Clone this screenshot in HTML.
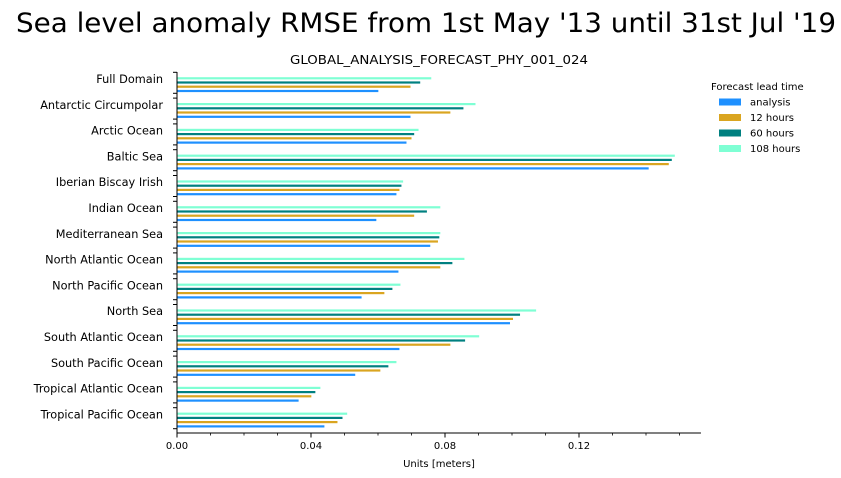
<!DOCTYPE html>
<html><head><meta charset="utf-8"><style>
html,body{margin:0;padding:0;background:#fff;width:841px;height:478px;overflow:hidden}
svg{display:block;font-family:"DejaVu Sans","Liberation Sans",sans-serif}
</style></head><body>
<svg id="chart" width="841" height="478" viewBox="0 0 841 478" xmlns="http://www.w3.org/2000/svg">
<text x="426" y="32" font-size="27" text-anchor="middle" textLength="820" lengthAdjust="spacingAndGlyphs">Sea level anomaly RMSE from 1st May '13 until 31st Jul '19</text>
<text x="439" y="64" font-size="12.5" text-anchor="middle" textLength="298" lengthAdjust="spacingAndGlyphs">GLOBAL_ANALYSIS_FORECAST_PHY_001_024</text>
<text x="439" y="467" font-size="10" text-anchor="middle">Units [meters]</text>
<g id="plot"></g>
<g id="legend"></g>
</svg>
<script>
const categories=["Full Domain","Antarctic Circumpolar","Arctic Ocean","Baltic Sea","Iberian Biscay Irish","Indian Ocean","Mediterranean Sea","North Atlantic Ocean","North Pacific Ocean","North Sea","South Atlantic Ocean","South Pacific Ocean","Tropical Atlantic Ocean","Tropical Pacific Ocean"];
const seriesNames=["analysis","12 hours","60 hours","108 hours"];
const analysis=[0.0601,0.0697,0.0685,0.1408,0.0655,0.0595,0.0756,0.0661,0.0551,0.0994,0.0664,0.0532,0.0363,0.0440];
const h12=[0.0697,0.0816,0.0700,0.1468,0.0664,0.0708,0.0779,0.0786,0.0619,0.1003,0.0816,0.0607,0.0401,0.0479];
const h60=[0.0726,0.0855,0.0708,0.1477,0.0670,0.0746,0.0783,0.0822,0.0643,0.1024,0.0860,0.0631,0.0413,0.0494];
const h108=[0.0759,0.0891,0.0721,0.1486,0.0675,0.0786,0.0786,0.0858,0.0667,0.1072,0.0902,0.0655,0.0428,0.0508];
const xTicks=[0,0.04,0.08,0.12];
const xTickLabels=["0.00","0.04","0.08","0.12"];
const colors=["#1e90ff","#daa520","#008080","#7fffd4"];
const NS="http://www.w3.org/2000/svg";
const x0=177,pxPerUnit=134/0.04,xMax=0.1564,yTop=72,yBot=433,pitch=25.8;
const xs=v=>x0+v*pxPerUnit;
function mk(tag,attrs,parent){const e=document.createElementNS(NS,tag);for(const k in attrs)e.setAttribute(k,attrs[k]);parent.appendChild(e);return e;}
const plot=document.getElementById('plot');
const all=[analysis,h12,h60,h108];
const offsets=[13,8.7,4.5,0.3];
categories.forEach((c,i)=>{
  const gTop=78+pitch*i;
  for(let s=3;s>=0;s--){
    const cy=gTop+offsets[s];
    const r=mk('rect',{x:x0,y:cy-1.1,width:xs(all[s][i])-x0,height:2.2,fill:colors[s]},plot);
    
    
  }
  const t=mk('text',{x:163,y:gTop+5,'font-size':11.3,'text-anchor':'end'},plot);
  t.textContent=c;
  
  
  mk('line',{x1:173,x2:177,y1:72.3+pitch*i,y2:72.3+pitch*i,stroke:'#000','stroke-width':1},plot);
  mk('line',{x1:173,x2:177,y1:93.3+pitch*i,y2:93.3+pitch*i,stroke:'#000','stroke-width':1},plot);
});
const ls=mk('line',{x1:x0,x2:x0,y1:yTop,y2:yBot,stroke:'#000','stroke-width':1},plot);


const bs=mk('line',{x1:x0,x2:xs(xMax),y1:yBot,y2:yBot,stroke:'#000','stroke-width':1},plot);


for(let k=0;k<=15;k++){const v=k*0.01;mk('line',{x1:xs(v),x2:xs(v),y1:yBot,y2:yBot+2.5,stroke:'#000','stroke-width':0.8},plot);}
xTicks.forEach((v,i)=>{
  mk('line',{x1:xs(v),x2:xs(v),y1:yBot,y2:yBot+4.5,stroke:'#000','stroke-width':1},plot);
  const t=mk('text',{x:xs(v),y:yBot+16,'font-size':10,'text-anchor':'middle'},plot);
  t.textContent=xTickLabels[i];
  
  
});
const lg=document.getElementById('legend');
const lt=mk('text',{x:711,y:90,'font-size':10},lg);
lt.textContent="Forecast lead time";


seriesNames.forEach((n,s)=>{
  const y=102+s*15.5;
  const r=mk('rect',{x:719,y:y-3.5,width:22,height:7,fill:colors[s]},lg);
  
  
  const t=mk('text',{x:750,y:y+3.5,'font-size':10},lg);
  t.textContent=n;
  
  
});
</script>
</body></html>
